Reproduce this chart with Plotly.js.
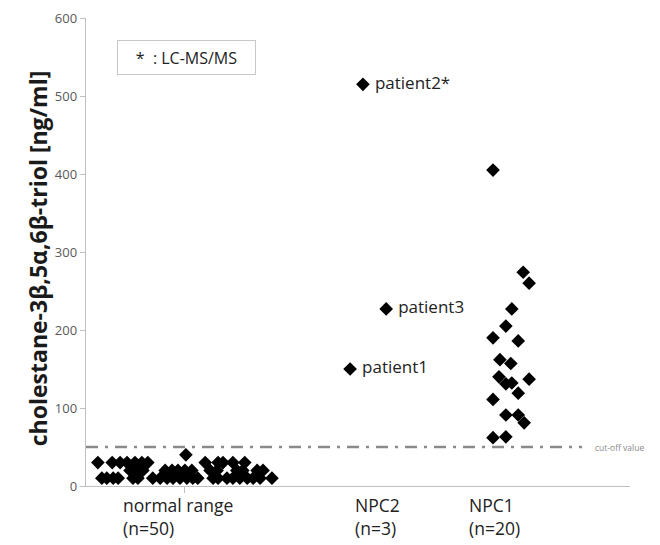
<!DOCTYPE html>
<html>
<head>
<meta charset="utf-8">
<script src="https://cdn.plot.ly/plotly-3.0.1.min.js"></script>
<style>html,body{margin:0;padding:0;background:#fff;}#chart{width:660px;height:545px;}</style>
</head>
<body>
<div id="chart"></div>
<script>
// ---- data ----
// Normal range (n=50): x = jitter position, y = value (ng/ml)
const normalX = [2.4,5.3,6.9,8.3,9.9,11.3,12.5,24.1,26.7,27.7,29.7,32.1,
  8.9,10.5,11.5,16.0,17.4,18.6,20.0,21.4,25.1,26.5,30.5,31.7,34.6,35.8,
  3.2,4.2,5.5,6.5,9.5,10.5,13.5,15.0,16.4,17.6,19.0,20.4,21.6,22.6,25.7,26.7,28.5,29.7,31.1,32.6,33.8,35.2,37.6,
  20.2];
const normalY = [30,30,30,30,30,30,30,30,30,30,30,30,
  20,20,20,20,20,20,20,20,20,20,20,20,20,20,
  10,10,10,10,10,10,10,10,10,10,10,10,10,10,10,10,10,10,10,10,10,10,10,
  40];
// NPC2 (n=3)
const npc2Names = ["patient1","patient2*","patient3"];
const npc2X = [53.4,56.0,60.7];
const npc2Y = [150,515,227];
// NPC1 (n=20)
const npc1X = [82.3,88.4,89.6,86.1,84.9,82.3,87.4,83.7,85.9,83.5,84.9,86.1,89.6,87.4,82.3,84.9,87.4,88.6,82.3,84.9];
const npc1Y = [405,274,260,227,205,190,186,162,157,140,131,132,137,119,111,91,91,81,62,63];
// group labels
const groupLabels = ["normal range<br>(n=50)","NPC2<br>(n=3)","NPC1<br>(n=20)"];
const groupLabelX = [7.0,54.0,77.0];
const CUTOFF = 50;
const yTicks = [0,100,200,300,400,500,600];

const FONT = "Open Sans, Liberation Sans, sans-serif";
const mk = {symbol:"diamond", size:10.5, color:"#000", line:{width:0}};

const traces = [
  {type:"scatter", mode:"markers", x:normalX, y:normalY, marker:mk, hoverinfo:"skip", cliponaxis:false},
  {type:"scatter", mode:"markers+text", x:npc2X, y:npc2Y, text:npc2Names, texttemplate:" %{text}",
   textposition:"middle right", textfont:{family:FONT, size:17, color:"#222"}, marker:mk, cliponaxis:false},
  {type:"scatter", mode:"markers", x:npc1X, y:npc1Y, marker:mk, cliponaxis:false}
];

const annotations = groupLabels.map((t,i)=>({
  x:groupLabelX[i], xref:"x", y:0, yref:"y", yshift:-5, text:t, showarrow:false,
  xanchor:"left", yanchor:"top", align:"left",
  font:{family:FONT, size:17.5, color:"#222"}
}));
annotations.push({
  x:102.5, xref:"x", y:CUTOFF, yref:"y", text:"cut-off value", showarrow:false,
  xanchor:"left", yanchor:"middle", font:{family:FONT, size:8.5, color:"#8a8a8a"}
});
annotations.push({
  x:0.057, xref:"paper", y:0.953, yref:"paper", xanchor:"left", yanchor:"top",
  text:"*  : LC-MS/MS", showarrow:false, width:135, height:31, align:"center",
  bordercolor:"#c8c8c8", borderwidth:1, borderpad:1, bgcolor:"#fff",
  font:{family:FONT, size:16, color:"#222"}
});
annotations.push({
  x:-0.088, xref:"paper", y:0.487, yref:"paper", textangle:-90, showarrow:false,
  text:"cholestane-3β,5α,6β-triol [ng/ml]", xanchor:"center", yanchor:"middle",
  font:{family:FONT, size:23, color:"#1a1a1a", weight:"bold"}
});

const layout = {
  width:660, height:545,
  margin:{l:86, r:30, t:18, b:59},
  paper_bgcolor:"#fff", plot_bgcolor:"#fff",
  showlegend:false,
  font:{family:FONT},
  xaxis:{range:[0,110], showgrid:false, zeroline:false, showline:true, linecolor:"#bfbfbf", linewidth:1.3,
    tickvals:[20], ticktext:[""], ticks:"outside", ticklen:6, tickcolor:"#bfbfbf", fixedrange:true},
  yaxis:{range:[0,600], tickvals:yTicks, showgrid:false, zeroline:false, showline:true, linecolor:"#bfbfbf", linewidth:1.3,
    ticks:"outside", ticklen:5, tickcolor:"#bfbfbf", tickfont:{family:FONT, size:13, color:"#595959"}, fixedrange:true},
  shapes:[{type:"line", xref:"x", yref:"y", x0:0, x1:100.3, y0:CUTOFF, y1:CUTOFF,
    line:{color:"#8a8a8a", width:2.5, dash:"12px,7px,3px,7px"}, layer:"below"}],
  annotations:annotations
};
Plotly.newPlot("chart", traces, layout, {displayModeBar:false, staticPlot:true});
</script>
</body>
</html>
